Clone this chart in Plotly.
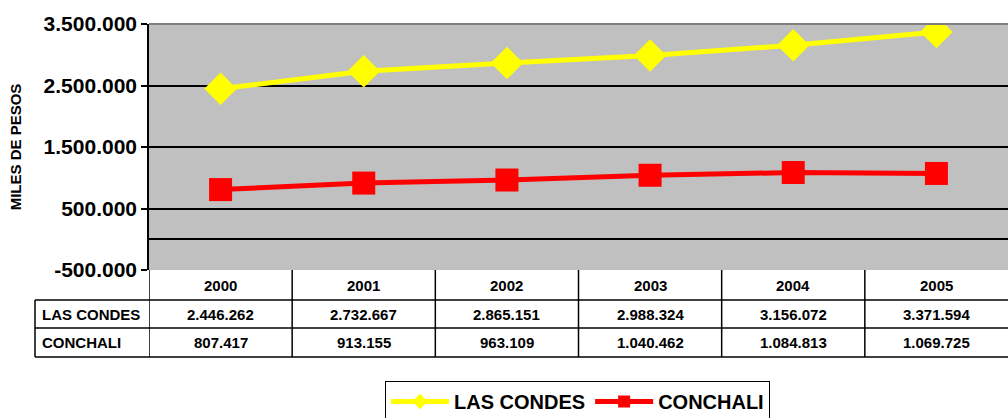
import plotly.graph_objects as go

years = ["2000", "2001", "2002", "2003", "2004", "2005"]
las_condes = [2446262, 2732667, 2865151, 2988324, 3156072, 3371594]
conchali = [807417, 913155, 963109, 1040462, 1084813, 1069725]
series_names = ["LAS CONDES", "CONCHALI"]
y_title = "MILES DE PESOS"
y_ticks = [-500000, 500000, 1500000, 2500000, 3500000]

def fmt(v):
    return "{:,}".format(v).replace(",", ".")

W, H = 1008, 418
ML, MR, MT, MB = 149, 0, 24, 148
PH = H - MT - MB
PW = W - ML - MR

def py(p):
    return (MT + PH - p) / PH

def px(p):
    return (p - ML) / PW

FONT = "Liberation Sans, Arial, sans-serif"

fig = go.Figure()
fig.add_trace(go.Scatter(
    x=years, y=las_condes, name="<b>%s</b>" % series_names[0], mode="lines+markers",
    line=dict(color="#FFFF00", width=5),
    marker=dict(symbol="diamond", size=25, color="#FFFF00"),
))
fig.add_trace(go.Scatter(
    x=years, y=conchali, name="<b>%s</b>" % series_names[1], mode="lines+markers",
    line=dict(color="#FF0000", width=5),
    marker=dict(symbol="square", size=23, color="#FF0000"),
))

shapes = []
annotations = []
line_style = dict(color="black", width=1.5)

shapes.append(dict(type="line", xref="paper", yref="paper", x0=0, x1=1, y0=1, y1=1,
                   line=dict(color="#808080", width=2), layer="above"))
for yp in (300, 328, 357):
    shapes.append(dict(type="line", xref="paper", yref="paper", x0=px(35), x1=1,
                       y0=py(yp), y1=py(yp), line=line_style))
shapes.append(dict(type="line", xref="paper", yref="paper", x0=px(35), x1=px(35),
                   y0=py(300), y1=py(357), line=line_style))
for i in range(len(years)):
    shapes.append(dict(type="line", xref="x", yref="paper", x0=i - 0.5, x1=i - 0.5,
                       y0=0, y1=py(357), line=line_style))

tfont = dict(family=FONT, size=15, color="black")
for i, yr in enumerate(years):
    annotations.append(dict(x=i, y=py(285), xref="x", yref="paper", text="<b>%s</b>" % yr,
                            yanchor="middle", xanchor="center",
                            showarrow=False, font=tfont))
    for vals, yc in ((las_condes, 314), (conchali, 342.5)):
        annotations.append(dict(x=i, y=py(yc), xref="x", yref="paper",
                                text="<b>%s</b>" % fmt(vals[i]),
                                yanchor="middle", xanchor="center",
                                showarrow=False, font=tfont))
for name, yc in zip(series_names, (314, 342.5)):
    annotations.append(dict(x=px(40), y=py(yc), xref="paper", yref="paper", xanchor="left",
                            yanchor="middle",
                            text="<b>%s</b>" % name, showarrow=False, font=tfont))

fig.update_layout(
    width=W, height=H,
    margin=dict(l=ML, r=MR, t=MT, b=MB, autoexpand=False),
    paper_bgcolor="white", plot_bgcolor="#C0C0C0",
    font=dict(family=FONT, color="black"),
    showlegend=True,
    legend=dict(orientation="h", x=px(385), y=py(381), xanchor="left", yanchor="top",
                bordercolor="black", borderwidth=1, bgcolor="white", itemwidth=58,
                itemsizing="constant",
                font=dict(family=FONT, size=20, color="black"),
                traceorder="normal"),
    shapes=shapes, annotations=annotations,
)
fig.update_xaxes(type="category", range=[-0.5, len(years) - 0.5], showticklabels=False,
                 showgrid=False, showline=False, zeroline=False, ticks="")
fig.update_yaxes(range=[-500000, 3500000], tickmode="array", tickvals=y_ticks,
                 ticktext=["<b>%s</b>" % fmt(v) for v in y_ticks],
                 showgrid=True, gridcolor="black", gridwidth=1.5,
                 zeroline=True, zerolinecolor="black", zerolinewidth=1.5,
                 showline=True, linecolor="black", linewidth=1.5,
                 ticks="outside", ticklen=6, tickcolor="black", tickwidth=1.5,
                 tickfont=dict(family=FONT, size=21, color="black"),
                 title=dict(text="<b>%s</b>" % y_title, standoff=18,
                            font=dict(family=FONT, size=15, color="black")))

post = ("document.body.style.margin='0px';document.body.style.overflow='hidden';"
        "var gd=document.getElementById('{plot_id}');"
        "gd.style.position='fixed';gd.style.left='0px';gd.style.top='0px';")
fig.write_html("out.html", config={"displayModeBar": False}, post_script=post)
